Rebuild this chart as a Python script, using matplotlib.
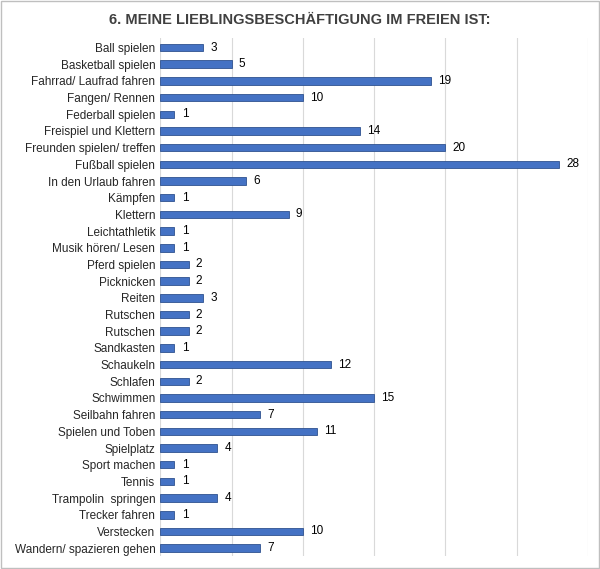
import matplotlib.pyplot as plt
from matplotlib.patches import Rectangle

plt.rcParams['font.family'] = ['Liberation Sans', 'DejaVu Sans']

activities = ['Ball spielen', 'Basketball spielen', 'Fahrrad/ Laufrad fahren', 'Fangen/ Rennen',
              'Federball spielen', 'Freispiel und Klettern', 'Freunden spielen/ treffen',
              'Fußball spielen', 'In den Urlaub fahren', 'Kämpfen', 'Klettern', 'Leichtathletik',
              'Musik hören/ Lesen', 'Pferd spielen', 'Picknicken', 'Reiten', 'Rutschen', 'Rutschen',
              'Sandkasten', 'Schaukeln', 'Schlafen', 'Schwimmen', 'Seilbahn fahren',
              'Spielen und Toben', 'Spielplatz', 'Sport machen', 'Tennis', 'Trampolin  springen',
              'Trecker fahren', 'Verstecken', 'Wandern/ spazieren gehen']
counts = [3, 5, 19, 10, 1, 14, 20, 28, 6, 1, 9, 1, 1, 2, 2, 3, 2, 2, 1, 12, 2, 15, 7, 11, 4,
          1, 1, 4, 1, 10, 7]

fig = plt.figure(figsize=(6, 5.69), dpi=100)
fig.patches.append(Rectangle((0.002, 0.002), 0.996, 0.996, transform=fig.transFigure,
                             fill=False, edgecolor='#bfbfbf', linewidth=1))
ax = fig.add_axes([0.267, 0.022, 0.713, 0.912])

pos = list(range(len(activities)))
ax.barh(pos, counts, height=0.45, color='#4472c4', edgecolor='#2f528f', linewidth=0.6, zorder=3)
for y, v in zip(pos, counts):
    ax.text(v + 0.5, y, str(v), va='center', ha='left', fontsize=8.5, color='#000000')

ax.set_yticks(pos)
ax.set_yticklabels(activities, fontsize=8.5, color='#262626')
ax.set_ylim(len(activities) - 0.5, -0.6)
ax.set_xlim(0, 30)
ax.set_xticks(range(0, 31, 5))
ax.set_xticklabels([])
ax.tick_params(length=0)
ax.grid(axis='x', color='#d9d9d9', linewidth=0.8, zorder=0)
for s in ax.spines.values():
    s.set_visible(False)

fig.text(0.5, 0.965, '6. MEINE LIEBLINGSBESCHÄFTIGUNG IM FREIEN IST:', ha='center', va='center',
         fontsize=10.5, fontweight='bold', color='#404040')

fig.savefig('out.png', dpi=100)
